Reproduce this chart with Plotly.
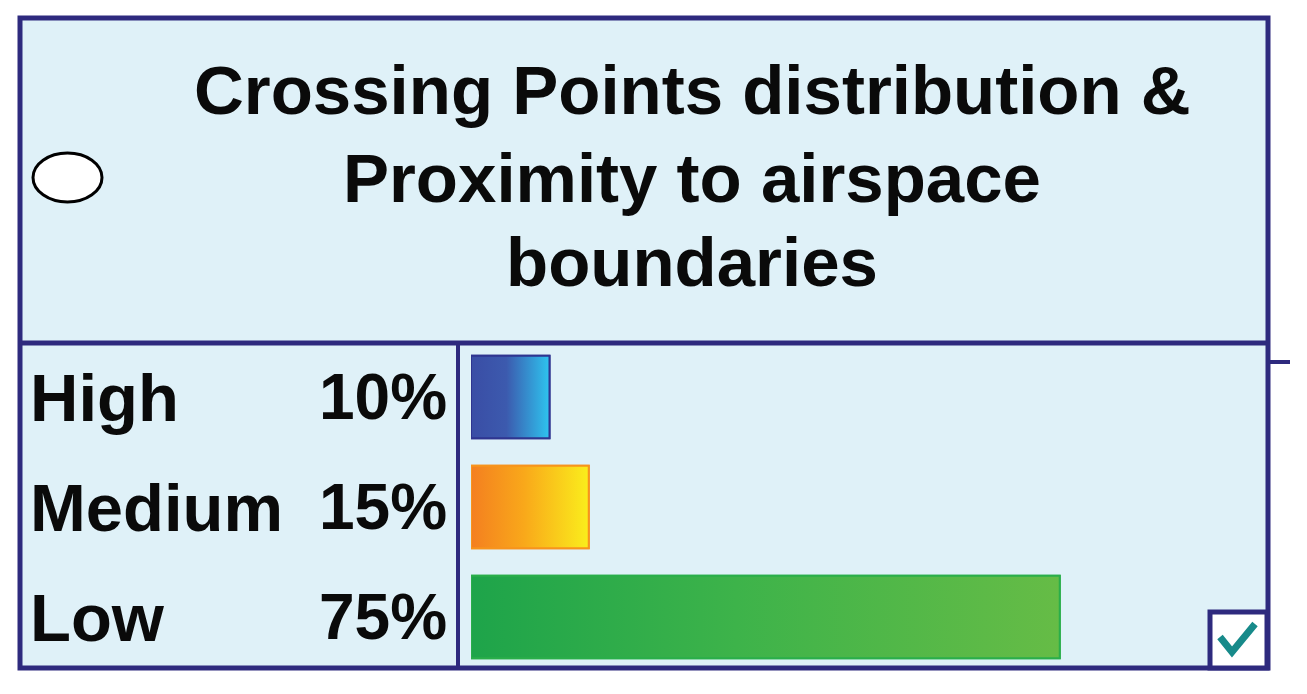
import plotly.graph_objects as go

# ---- data ----
title_lines = ["Crossing Points distribution &", "Proximity to airspace", "boundaries"]
categories = ["High", "Medium", "Low"]
values = [10, 15, 75]
pct_labels = ["10%", "15%", "75%"]
grad_colors = [["#3A4DA5", "#3C5AAE", "#2EC4EF"],
               ["#F47F20", "#F9A81A", "#FAEE1C"],
               ["#1EA44A", "#3DB34A", "#66BC46"]]
outline_colors = ["#2F3590", "#F7941D", "#2AAE4A"]

W, H = 1307, 694
NAVY = "#2E2A7E"
PANEL = "#DFF1F8"
FONT = "Liberation Sans, Arial, sans-serif"
TXT = "#0A0A0A"


def px(x):
    return x / W


def py(y):
    return 1 - y / H


fig = go.Figure()

pos = list(range(len(categories)))
half = 0.375

# base bars
fig.add_trace(go.Bar(
    x=values, y=pos, orientation="h", width=2 * half,
    marker=dict(color=[c[1] for c in grad_colors],
                line=dict(color=outline_colors, width=2)),
    hoverinfo="skip", showlegend=False,
))

# gradient overlay for each bar, built from the same values
for i, (v, cols, oc) in enumerate(zip(values, grad_colors, outline_colors)):
    fig.add_trace(go.Scatter(
        x=[0, v, v, 0, 0],
        y=[i - half, i - half, i + half, i + half, i - half],
        mode="lines", fill="toself",
        fillgradient=dict(type="horizontal",
                          colorscale=[[0, cols[0]], [0.45, cols[1]], [1, cols[2]]]),
        line=dict(color=oc, width=2),
        hoverinfo="skip", showlegend=False,
    ))

shapes = []
# panel background
shapes.append(dict(type="rect", xref="paper", yref="paper",
                   x0=px(20), x1=px(1268), y0=py(668), y1=py(18),
                   fillcolor=PANEL, line=dict(color=NAVY, width=5), layer="below"))
# horizontal divider
shapes.append(dict(type="line", xref="paper", yref="paper",
                   x0=px(20), x1=px(1268), y0=py(343), y1=py(343),
                   line=dict(color=NAVY, width=5)))
# vertical divider
shapes.append(dict(type="line", xref="paper", yref="paper",
                   x0=px(458), x1=px(458), y0=py(343), y1=py(668),
                   line=dict(color=NAVY, width=4)))
# right stub
shapes.append(dict(type="line", xref="paper", yref="paper",
                   x0=px(1268), x1=px(1290), y0=py(362), y1=py(362),
                   line=dict(color=NAVY, width=4)))
# radio ellipse
shapes.append(dict(type="circle", xref="paper", yref="paper",
                   x0=px(33), x1=px(102), y0=py(202), y1=py(153),
                   fillcolor="white", line=dict(color="black", width=3)))
# checkbox
shapes.append(dict(type="rect", xref="paper", yref="paper",
                   x0=px(1210), x1=px(1267), y0=py(668), y1=py(612),
                   fillcolor="white", line=dict(color=NAVY, width=5)))
# check mark
shapes.append(dict(type="path", xref="paper", yref="paper",
                   path=(f"M {px(1220)} {py(637)} L {px(1232)} {py(652)} "
                         f"L {px(1255)} {py(624)}"),
                   line=dict(color="#178A8A", width=7)))

annotations = []
title_y = [91, 178, 262]
for t, yy in zip(title_lines, title_y):
    annotations.append(dict(text=t, xref="paper", yref="paper", x=px(692), y=py(yy),
                            xanchor="center", yanchor="middle", showarrow=False,
                            font=dict(family=FONT, size=69, color=TXT, weight=700)))
for i, (c, p) in enumerate(zip(categories, pct_labels)):
    annotations.append(dict(text=c, xref="paper", yref="y", x=px(28), y=i,
                            xanchor="left", yanchor="middle", showarrow=False,
                            font=dict(family=FONT, size=67, color=TXT, weight=700)))
    annotations.append(dict(text=p, xref="paper", yref="y", x=px(449), y=i,
                            xanchor="right", yanchor="middle", showarrow=False,
                            font=dict(family=FONT, size=64, color=TXT, weight=700)))

fig.update_layout(
    width=W, height=H,
    margin=dict(l=0, r=0, t=0, b=0),
    paper_bgcolor="white",
    plot_bgcolor="rgba(0,0,0,0)",
    shapes=shapes,
    annotations=annotations,
    showlegend=False,
    xaxis=dict(domain=[px(471), px(1256)], range=[0, 100], visible=False, fixedrange=True),
    yaxis=dict(domain=[py(672), py(342)], range=[2.5, -0.5], visible=False, fixedrange=True),
)

fig.write_html("out.html",
               config={"displayModeBar": False},
               post_script="document.body.style.margin='0';"
                           "document.documentElement.style.overflow='hidden';")
